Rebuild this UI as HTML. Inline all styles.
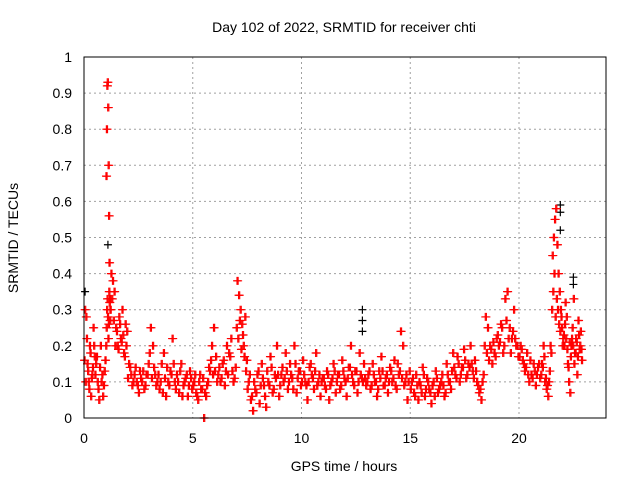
<!DOCTYPE html>
<html><head><meta charset="utf-8"><style>
html,body{margin:0;padding:0;background:#fff;}
svg text{font-family:"Liberation Sans",sans-serif;fill:#000;}
</style></head><body>
<svg id="chart" width="640" height="480" viewBox="0 0 640 480" xmlns="http://www.w3.org/2000/svg">
<rect width="640" height="480" fill="#fff"/>
<text x="344" y="32" font-size="14" text-anchor="middle">Day 102 of 2022, SRMTID for receiver chti</text>
<text x="344" y="471" font-size="14" text-anchor="middle">GPS time / hours</text>
<text x="0" y="0" font-size="14" text-anchor="middle" transform="translate(18,238) rotate(-90)">SRMTID / TECUs</text>
<g id="grid"></g>
<g id="ticks"></g>
<g id="blackpts"></g>
<g id="redpts"></g>
<rect x="84" y="57" width="522" height="361" fill="none" stroke="#000" stroke-width="1"/>
</svg>
<script>
const xTicks=[0,5,10,15,20];
const yTicks=[0,0.1,0.2,0.3,0.4,0.5,0.6,0.7,0.8,0.9,1];
const yTickLabels=["0","0.1","0.2","0.3","0.4","0.5","0.6","0.7","0.8","0.9","1"];
const segStart=[0,0.5,1.0,1.2,2,3,4,5,6,7,7.5,9,11,13,15,17,19,20,21,21.5,22.2];
const segEnd=[0.5,1.0,1.2,2,3,4,5,6,7,7.5,9,11,13,15,17,19,20,21,21.5,22.2,22.9];
const segValues=[
[0.3,0.28,0.15,0.1,0.2,0.06,0.12,0.25,0.17],
[0.15,0.1,0.05,0.2,0.12,0.09,0.16],
[0.67,0.8,0.92,0.93,0.86,0.7,0.56,0.43,0.33,0.3],
[0.4,0.38,0.35,0.25,0.2,0.28,0.22,0.3,0.18,0.26,0.24],
[0.15,0.12,0.1,0.14,0.09,0.13,0.1,0.08,0.12,0.15],
[0.25,0.2,0.12,0.1,0.08,0.15,0.18,0.06,0.1,0.13],
[0.22,0.1,0.12,0.07,0.15,0.09,0.11,0.06,0.13,0.08],
[0.1,0.07,0.05,0.12,0.08,0.0,0.06,0.1,0.13,0.2,0.25],
[0.17,0.12,0.1,0.15,0.09,0.2,0.18,0.22,0.1,0.14],
[0.38,0.34,0.3,0.26,0.2,0.28,0.16],
[0.1,0.05,0.02,0.08,0.12,0.04,0.15,0.09,0.03,0.1,0.17,0.07,0.12,0.2,0.06],
[0.12,0.1,0.18,0.08,0.15,0.11,0.2,0.07,0.13,0.09,0.16,0.1,0.05,0.14,0.12,0.08,0.18,0.1,0.06,0.11],
[0.09,0.13,0.05,0.1,0.15,0.07,0.12,0.08,0.16,0.11,0.06,0.14,0.2,0.1,0.13,0.07,0.18,0.11,0.15,0.09],
[0.12,0.08,0.15,0.1,0.06,0.13,0.17,0.09,0.11,0.07,0.14,0.1,0.16,0.08,0.12,0.24,0.2,0.1,0.05,0.13],
[0.1,0.07,0.12,0.05,0.09,0.14,0.06,0.11,0.08,0.04,0.1,0.13,0.07,0.09,0.12,0.06,0.15,0.1,0.08,0.18],
[0.12,0.17,0.1,0.14,0.19,0.11,0.15,0.2,0.13,0.16,0.1,0.07,0.05,0.12,0.28,0.25,0.2,0.15,0.18,0.22],
[0.2,0.26,0.18,0.33,0.35,0.25,0.22,0.3,0.2,0.17],
[0.2,0.16,0.13,0.18,0.1,0.12,0.15,0.09,0.14,0.11],
[0.15,0.2,0.1,0.08,0.06,0.13,0.18],
[0.45,0.5,0.55,0.58,0.48,0.4,0.35,0.3,0.25,0.22,0.2,0.32,0.28],
[0.15,0.1,0.07,0.2,0.25,0.33,0.18,0.22,0.12,0.27,0.19,0.24,0.16]
];
const segValues2=[
[0.16,0.1,0.22,0.13,0.08,0.18,0.11,0.14,0.2],
[0.12,0.17,0.08,0.14,0.1,0.06,0.13],
[0.2,0.25,0.3,0.33,0.28,0.22,0.26,0.35,0.32,0.27],
[0.3,0.33,0.27,0.2,0.24,0.19,0.26,0.21,0.23,0.17,0.2],
[0.11,0.14,0.09,0.12,0.1,0.07,0.11,0.13,0.09,0.12],
[0.18,0.11,0.14,0.09,0.12,0.1,0.07,0.11,0.14,0.09],
[0.12,0.15,0.08,0.1,0.13,0.06,0.1,0.12,0.09,0.11],
[0.09,0.12,0.06,0.1,0.08,0.11,0.07,0.09,0.14,0.16,0.12],
[0.13,0.1,0.14,0.11,0.16,0.13,0.12,0.17,0.13,0.11],
[0.25,0.22,0.27,0.19,0.23,0.17,0.13],
[0.08,0.12,0.06,0.1,0.07,0.13,0.09,0.11,0.06,0.13,0.09,0.14,0.08,0.11,0.12],
[0.09,0.14,0.11,0.13,0.1,0.12,0.08,0.15,0.11,0.13,0.1,0.12,0.09,0.1,0.15,0.11,0.13,0.09,0.12,0.1],
[0.11,0.08,0.12,0.09,0.11,0.13,0.1,0.12,0.09,0.13,0.1,0.11,0.14,0.12,0.09,0.13,0.1,0.12,0.1,0.11],
[0.1,0.13,0.09,0.12,0.1,0.08,0.11,0.13,0.09,0.12,0.1,0.13,0.11,0.09,0.15,0.13,0.11,0.09,0.12,0.1],
[0.08,0.11,0.06,0.09,0.1,0.07,0.12,0.08,0.1,0.07,0.09,0.06,0.11,0.08,0.1,0.09,0.07,0.12,0.1,0.13],
[0.14,0.11,0.15,0.12,0.14,0.16,0.12,0.14,0.15,0.11,0.13,0.09,0.08,0.1,0.2,0.18,0.16,0.19,0.21,0.17],
[0.23,0.21,0.25,0.2,0.27,0.22,0.18,0.24,0.22,0.2],
[0.17,0.19,0.15,0.14,0.12,0.16,0.11,0.13,0.12,0.15],
[0.12,0.14,0.17,0.11,0.09,0.1,0.2],
[0.3,0.35,0.4,0.28,0.33,0.3,0.26,0.24,0.28,0.2,0.23,0.26,0.22],
[0.19,0.14,0.21,0.17,0.22,0.2,0.15,0.18,0.21,0.17,0.23,0.2,0.19]
];
const blackTimes=[0.05,1.1,12.8,12.8,12.8,21.9,21.9,21.9,22.5,22.5];
const blackValues=[0.35,0.48,0.3,0.27,0.24,0.59,0.57,0.52,0.39,0.37];

const X=h=>84+h*(522/24);
const Y=v=>418-v*361;
const NS="http://www.w3.org/2000/svg";
function mk(tag,parent){const e=document.createElementNS(NS,tag);parent.appendChild(e);return e;}
const grid=document.getElementById('grid'),ticks=document.getElementById('ticks');
xTicks.forEach((t,i)=>{
  const x=X(t);
  if(t>0){const l=mk('line',grid);l.setAttribute('x1',x);l.setAttribute('x2',x);l.setAttribute('y1',57);l.setAttribute('y2',418);l.setAttribute('stroke','#a0a0a0');l.setAttribute('stroke-dasharray','2,3');
  
  }
  const tk=mk('text',ticks);tk.setAttribute('x',x);tk.setAttribute('y',443);tk.setAttribute('font-size','14');tk.setAttribute('text-anchor','middle');tk.textContent=String(t);
  
  
});
yTicks.forEach((v,i)=>{
  const y=Y(v);
  if(v>0&&v<1){const l=mk('line',grid);l.setAttribute('x1',84);l.setAttribute('x2',606);l.setAttribute('y1',y);l.setAttribute('y2',y);l.setAttribute('stroke','#a0a0a0');l.setAttribute('stroke-dasharray','2,3');
  
  }
  const tk=mk('text',ticks);tk.setAttribute('x',72);tk.setAttribute('y',y+5);tk.setAttribute('font-size','14');tk.setAttribute('text-anchor','end');tk.textContent=yTickLabels[i];
  
  
});
function plus(parent,h,v,color){
  const x=X(h),y=Y(v);
  const p=mk('path',parent);
  p.setAttribute('d',`M${x-4},${y}H${x+4}M${x},${y-4}V${y+4}`);
  p.setAttribute('stroke',color);p.setAttribute('stroke-width','1.2');p.setAttribute('fill','none');
  
  
}
const bg=document.getElementById('blackpts');
blackTimes.forEach((t,i)=>plus(bg,t,blackValues[i],'#000'));
const rg=document.getElementById('redpts');
function drawSegs(arr,phase){
  arr.forEach((vals,s)=>{
    const n=vals.length,a=segStart[s],b=segEnd[s];
    vals.forEach((v,i)=>{
      const h=a+(b-a)*(i+phase)/n;
      plus(rg,h,v,'#f00');
      plus(rg,h+0.05,v,'#f00');
    });
  });
}
drawSegs(segValues,0.5);
drawSegs(segValues2,0.0);
</script>
</body></html>
